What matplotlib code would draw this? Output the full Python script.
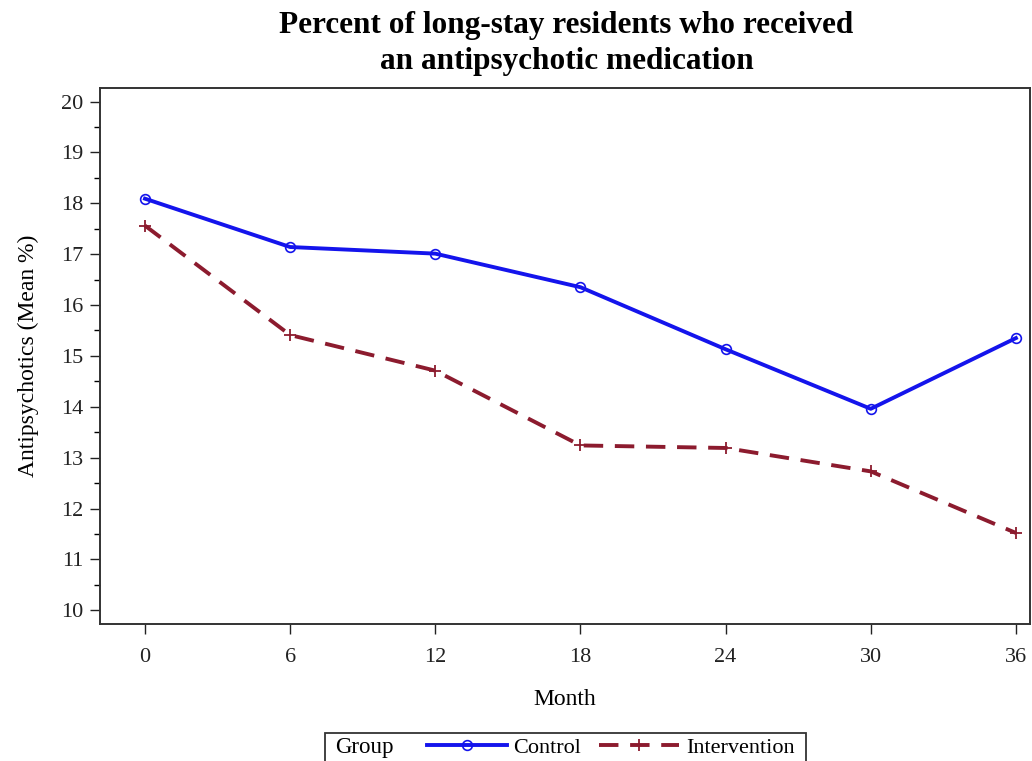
import matplotlib
matplotlib.use('Agg')
import matplotlib.pyplot as plt
from matplotlib.patches import Rectangle
from matplotlib.ticker import MultipleLocator

months = [0, 6, 12, 18, 24, 30, 36]
control = [18.09, 17.14, 17.01, 16.35, 15.13, 13.96, 15.35]
intervention = [17.56, 15.41, 14.71, 13.24, 13.19, 12.73, 11.52]

BLUE = '#1414EC'
WINE = '#8C1B2E'

plt.rcParams['font.family'] = ['Liberation Serif', 'DejaVu Serif']

fig = plt.figure(figsize=(10.32, 7.61), dpi=100)
ax = fig.add_axes([0.0969, 0.18, 0.9011, 0.704])

ax.plot(months, control, color=BLUE, lw=2.8, marker='o', ms=7,
        mfc='none', mec=BLUE, mew=1.2, label='Control')
ax.plot(months, intervention, color=WINE, lw=2.8, ls=(0, (5, 3)),
        marker='+', ms=9, mec=WINE, mew=1.3, label='Intervention')

ax.set_xlim(-1.86, 36.58)
ax.set_ylim(9.73, 20.26)
ax.set_xticks(months)
ax.yaxis.set_major_locator(MultipleLocator(1))
ax.yaxis.set_minor_locator(MultipleLocator(0.5))
ax.tick_params(axis='both', which='major', direction='out', length=7,
               width=1, labelsize=16, colors='#222222')
ax.tick_params(axis='x', which='major', pad=10)
ax.tick_params(axis='y', which='major', pad=5)
ax.tick_params(axis='y', which='minor', direction='out', length=4, width=1)
for s in ax.spines.values():
    s.set_color('#333333')
    s.set_linewidth(1.4)

ax.set_xlabel('Month', fontsize=17, labelpad=16)
ax.set_ylabel('Antipsychotics (Mean %)', fontsize=17, labelpad=16)
fig.text(0.549, 0.943, 'Percent of long-stay residents who received\nan antipsychotic medication',
         ha='center', va='center', fontsize=22.5, fontweight='bold',
         linespacing=1.32)

# legend row along the bottom, "Group" sits inline before the entries
leg = fig.legend(loc='center left', bbox_to_anchor=(0.405, 0.018), ncol=2,
                 frameon=False, fontsize=16, handlelength=3.6,
                 handletextpad=0.3, columnspacing=0.8, borderaxespad=0)
fig.text(0.3246, 0.018, 'Group', ha='left', va='center', fontsize=16.5)
box = Rectangle((0.315, -0.02), 0.466, 0.057, transform=fig.transFigure,
                fill=False, lw=1.3, ec='#333333')
fig.add_artist(box)

fig.savefig('out.png', dpi=100)
